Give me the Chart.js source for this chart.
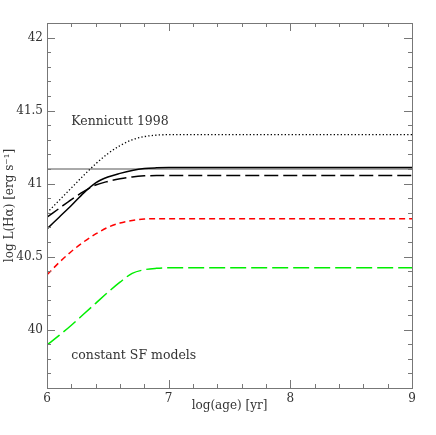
<!DOCTYPE html>
<html>
<head>
<meta charset="utf-8">
<script src="https://cdn.jsdelivr.net/npm/chart.js@4/dist/chart.umd.min.js"></script>
<style>
  html, body { margin: 0; padding: 0; background: #fff; }
  #wrap { width: 436px; height: 435px; }
</style>
</head>
<body>
<div id="wrap"><canvas id="chart" width="436" height="435"></canvas></div>
<script>
// data
const ages = [6.0, 6.1, 6.2, 6.3, 6.4, 6.5, 6.6, 6.7, 6.8, 6.9, 7.0, 7.5, 8.0, 8.5, 9.0];
const kennicutt = [40.80, 40.885, 40.97, 41.055, 41.135, 41.205, 41.26, 41.30, 41.322, 41.332, 41.335, 41.335, 41.335, 41.335, 41.335];
const modelSolid = [40.69, 40.77, 40.85, 40.935, 41.005, 41.045, 41.07, 41.09, 41.103, 41.108, 41.11, 41.11, 41.11, 41.11, 41.11];
const modelDashed = [40.77, 40.83, 40.89, 40.945, 40.99, 41.015, 41.033, 41.046, 41.053, 41.055, 41.055, 41.055, 41.055, 41.055, 41.055];
const modelRed = [40.375, 40.46, 40.535, 40.60, 40.655, 40.70, 40.73, 40.748, 40.757, 40.76, 40.76, 40.76, 40.76, 40.76, 40.76];
const modelGreen = [39.895, 39.96, 40.03, 40.105, 40.18, 40.255, 40.325, 40.385, 40.41, 40.42, 40.424, 40.424, 40.424, 40.424, 40.424];
const refLevel = 41.1;

const xTicks = [6, 7, 8, 9];
const yTicks = [40, 40.5, 41, 41.5, 42];

const serif = "'DejaVu Serif', 'Liberation Serif', serif";
const textColor = '#333';
const frameColor = '#777';

function pts(values) {
    return ages.map((a, i) => ({ x: a, y: values[i] }));
}

// inward ticks on all four sides, plus the text labels
const frameTicks = {
    id: 'frameTicks',
    afterDatasetsDraw(chart) {
        const { ctx, chartArea: a, scales: { x, y } } = chart;
        ctx.save();
        ctx.strokeStyle = frameColor;
        ctx.lineWidth = 1;
        ctx.beginPath();
        for (let i = 0; i <= 15; i++) {
            const v = 6 + i * 0.2;
            const px = Math.round(x.getPixelForValue(v)) + 0.5;
            const len = (i % 5 === 0) ? 8 : 4;
            ctx.moveTo(px, a.bottom); ctx.lineTo(px, a.bottom - len);
            ctx.moveTo(px, a.top); ctx.lineTo(px, a.top + len);
        }
        for (let i = 0; i <= 25; i++) {
            const v = 39.6 + i * 0.1;
            const py = Math.round(y.getPixelForValue(v)) + 0.5;
            const len = ((i + 1) % 5 === 0) ? 8 : 4;
            ctx.moveTo(a.left, py); ctx.lineTo(a.left + len, py);
            ctx.moveTo(a.right, py); ctx.lineTo(a.right - len, py);
        }
        ctx.stroke();
        ctx.strokeRect(Math.round(a.left) + 0.5, Math.round(a.top) + 0.5,
                       Math.round(a.right - a.left), Math.round(a.bottom - a.top));

        ctx.fillStyle = textColor;
        ctx.font = '12.5px ' + serif;
        ctx.textBaseline = 'alphabetic';
        ctx.textAlign = 'left';
        ctx.fillText('Kennicutt 1998', x.getPixelForValue(6.2), y.getPixelForValue(41.4));
        ctx.fillText('constant SF models', x.getPixelForValue(6.2), y.getPixelForValue(39.8));
        ctx.restore();
    }
};

const lineBase = { pointRadius: 0, fill: false, cubicInterpolationMode: 'monotone', borderWidth: 1.5 };

new Chart(document.getElementById('chart'), {
    type: 'line',
    data: {
        datasets: [
            Object.assign({}, lineBase, { label: 'solid', data: pts(modelSolid), borderColor: '#000' }),
            Object.assign({}, lineBase, { label: 'dashed', data: pts(modelDashed), borderColor: '#000', borderDash: [14, 5] }),
            Object.assign({}, lineBase, { label: 'Kennicutt 1998', data: pts(kennicutt), borderColor: '#000', borderWidth: 1.3, borderDash: [1.3, 2.2] }),
            Object.assign({}, lineBase, { label: 'red', data: pts(modelRed), borderColor: '#ff0000', borderDash: [6, 4] }),
            Object.assign({}, lineBase, { label: 'green', data: pts(modelGreen), borderColor: '#00ee00', borderDash: [16, 5] }),
            Object.assign({}, lineBase, {
                label: 'ref', data: [{ x: 6, y: refLevel }, { x: 9, y: refLevel }],
                borderColor: '#555', borderWidth: 1
            })
        ]
    },
    options: {
        responsive: false,
        animation: false,
        layout: { padding: { top: 23, right: 24, left: 0, bottom: 0 } },
        plugins: { legend: { display: false }, tooltip: { enabled: false } },
        scales: {
            x: {
                type: 'linear', min: 6, max: 9,
                afterBuildTicks: s => { s.ticks = xTicks.map(v => ({ value: v })); },
                afterFit: s => { s.height = 47; },
                grid: { display: false, drawTicks: false },
                border: { display: false },
                ticks: { color: textColor, font: { family: serif, size: 12 }, padding: 4, callback: v => String(v), maxRotation: 0 },
                title: { display: true, text: 'log(age) [yr]', color: textColor, font: { family: serif, size: 12 }, padding: { top: 0, bottom: 22 } }
            },
            y: {
                type: 'linear', min: 39.6, max: 42.1,
                afterBuildTicks: s => { s.ticks = yTicks.map(v => ({ value: v })); },
                afterFit: s => { s.width = 47; },
                grid: { display: false, drawTicks: false },
                border: { display: false },
                ticks: { color: textColor, font: { family: serif, size: 12 }, padding: 4, callback: v => String(v) },
                title: { display: true, text: 'log L(Hα) [erg s⁻¹]', color: textColor, font: { family: serif, size: 12 }, padding: { top: 3, bottom: 0 } }
            }
        }
    },
    plugins: [frameTicks]
});
</script>
</body>
</html>
